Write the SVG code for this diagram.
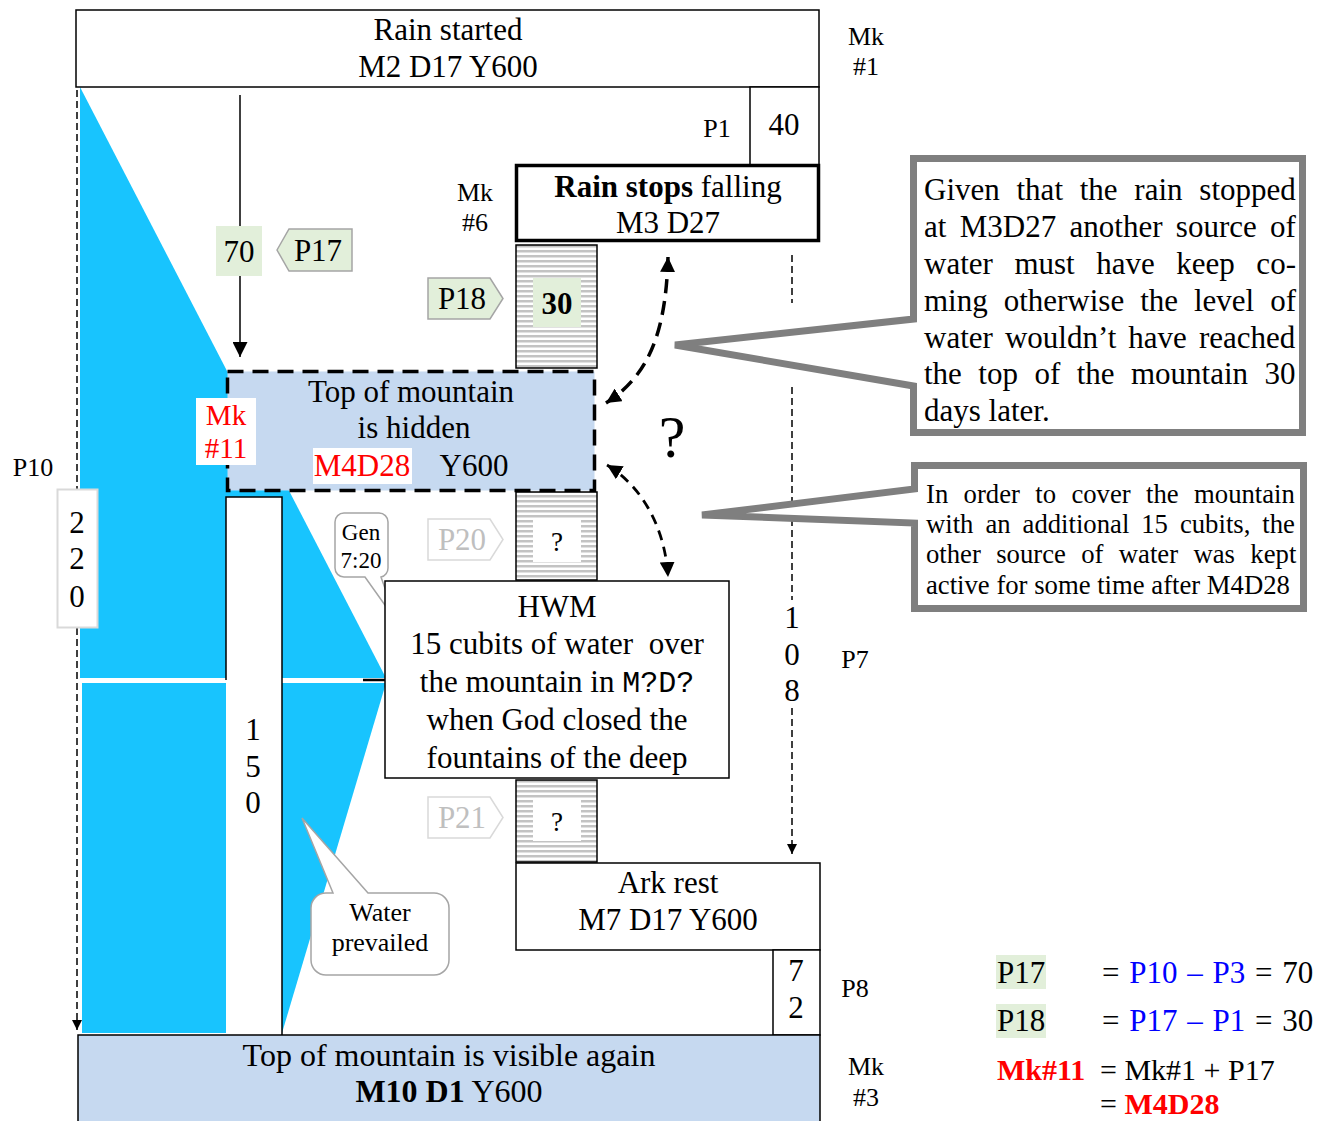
<svg xmlns="http://www.w3.org/2000/svg" width="1321" height="1121" viewBox="0 0 1321 1121">
<style>
text{font-family:"Liberation Serif","Times New Roman",serif}
.t31{font-size:31px}
.t26{font-size:26px}
.c{text-anchor:middle}
.box{fill:#fff;stroke:#000;stroke-width:1.5}
.lb{fill:#c6d9f0}
.hat{fill:url(#hatch);stroke:#000;stroke-width:1.5}
.pg{fill:#e2efda;stroke:#a5a5a5;stroke-width:1.5}
.pf{fill:#fff;stroke:#d9d9d9;stroke-width:1.5}
.faint{fill:#bfbfbf}
.call{fill:#fff;stroke:#7f7f7f;stroke-width:7;stroke-linejoin:miter}
.bub{fill:#fff;stroke:#a5a5a5;stroke-width:1.5}
.red{fill:#ff0000}
.blue{fill:#0000ff}
</style>
<defs>
<pattern id="hatch" width="10" height="5" patternUnits="userSpaceOnUse">
<rect width="10" height="5" fill="#fff"/>
<rect width="10" height="2.5" fill="#c3c3c3"/>
</pattern>
<marker id="ah" viewBox="0 0 10 10" refX="10" refY="5" markerWidth="15" markerHeight="15" orient="auto-start-reverse" markerUnits="userSpaceOnUse">
<path d="M0,0 L10,5 L0,10 z" fill="#000"/>
</marker>
<marker id="ahs" viewBox="0 0 10 10" refX="10" refY="5" markerWidth="10" markerHeight="10" orient="auto" markerUnits="userSpaceOnUse">
<path d="M0,0 L10,5 L0,10 z" fill="#000"/>
</marker>
</defs>
<rect width="1321" height="1121" fill="#fff"/>

<g id="water">
<polygon points="80,87 386,678 80,678" fill="#18c4fe"/>
<polygon points="82,683 386,683 282,1033 82,1033" fill="#18c4fe"/>
</g>

<g id="column150">
<rect x="226" y="497" width="56" height="538" fill="#fff"/>
<path d="M226,680 V497 H282 V1035" fill="none" stroke="#000" stroke-width="1.5"/>
<text class="t31 c" x="253" y="740">1</text>
<text class="t31 c" x="253" y="777">5</text>
<text class="t31 c" x="253" y="813">0</text>
</g>

<g id="connectors" fill="none" stroke="#000">
<line x1="240" y1="95" x2="240" y2="226" stroke-width="1.5"/>
<line x1="240" y1="276" x2="240" y2="357" stroke-width="1.5" marker-end="url(#ah)"/>
<line x1="77" y1="90" x2="77" y2="489" stroke-width="1.5" stroke-dasharray="7 4"/>
<line x1="77" y1="628" x2="77" y2="1030" stroke-width="1.5" stroke-dasharray="7 4" marker-end="url(#ahs)"/>
<line x1="792" y1="255" x2="792" y2="303" stroke-width="1.5" stroke-dasharray="7 4"/>
<line x1="792" y1="387" x2="792" y2="600" stroke-width="1.5" stroke-dasharray="7 4"/>
<line x1="792" y1="708" x2="792" y2="854" stroke-width="1.5" stroke-dasharray="7 4" marker-end="url(#ahs)"/>
<path d="M668,257 C666,330 650,375 606,403" stroke-width="3.5" stroke-dasharray="14 8" marker-start="url(#ah)" marker-end="url(#ah)"/>
<path d="M607,465 C640,485 665,525 668,577" stroke-width="2.8" stroke-dasharray="10 7" marker-start="url(#ah)" marker-end="url(#ah)"/>
<line x1="363" y1="680" x2="386" y2="680" stroke-width="2.5"/>
</g>

<g id="rain-started">
<rect class="box" x="76" y="10" width="743" height="77"/>
<text class="t31 c" x="448" y="40">Rain started</text>
<text class="t31 c" x="448" y="77">M2 D17 Y600</text>
</g>
<text class="t26 c" x="866" y="45">Mk</text>
<text class="t26 c" x="866" y="75">#1</text>

<g id="p1-40">
<rect class="box" x="750" y="87" width="69" height="78"/>
<text class="t31 c" x="784" y="135">40</text>
</g>
<text class="t26 c" x="717" y="137">P1</text>

<g id="rain-stops">
<rect x="516.5" y="165.5" width="302" height="75" fill="#fff" stroke="#000" stroke-width="3.5"/>
<text class="t31 c" x="668" y="197"><tspan font-weight="bold">Rain stops</tspan> falling</text>
<text class="t31 c" x="668" y="233">M3 D27</text>
</g>
<text class="t26 c" x="475" y="201">Mk</text>
<text class="t26 c" x="475" y="231">#6</text>

<g id="label70">
<rect x="216" y="226" width="46" height="50" fill="#e2efda"/>
<text class="t31 c" x="239" y="262">70</text>
</g>
<g id="p17">
<polygon class="pg" points="277,250 289,229 352,229 352,271 289,271"/>
<text class="t31 c" x="318" y="261">P17</text>
</g>
<g id="p18">
<polygon class="pg" points="428,278 490,278 503,298.5 490,319 428,319"/>
<text class="t31 c" x="462" y="309">P18</text>
</g>

<g id="bar30">
<rect class="hat" x="516" y="245" width="81" height="123"/>
<rect x="533" y="278" width="48" height="49" fill="#e2efda"/>
<text class="t31 c" x="557" y="314" font-weight="bold">30</text>
</g>

<g id="hidden">
<rect class="lb" x="227.5" y="371.5" width="367" height="119" stroke="#000" stroke-width="3.5" stroke-dasharray="16 9"/>
<text class="t31 c" x="411" y="402">Top of mountain</text>
<text class="t31 c" x="414" y="438">is hidden</text>
<rect x="313" y="448" width="99" height="36" fill="#fff"/>
<text class="t31 c red" x="362" y="476">M4D28</text>
<text class="t31 c" x="474" y="476">Y600</text>
</g>
<g id="mk11">
<rect x="196" y="398" width="60" height="67" fill="#fff"/>
<text class="c red" x="226" y="425" font-size="29">Mk</text>
<text class="c red" x="226" y="458" font-size="29">#11</text>
</g>

<text x="672" y="457" font-size="60" class="c">?</text>

<text class="t26 c" x="33" y="476">P10</text>
<g id="box220">
<rect x="57.5" y="489.5" width="40" height="138" fill="#fff" stroke="#d9d9d9" stroke-width="2"/>
<text class="t31 c" x="77" y="533">2</text>
<text class="t31 c" x="77" y="569">2</text>
<text class="t31 c" x="77" y="607">0</text>
</g>

<g id="gen720">
<path class="bub" d="M344,513 H379 A9,9 0 0 1 388,522 V568 A9,9 0 0 1 381,577 L397,622 L365,577 H344 A9,9 0 0 1 335,568 V522 A9,9 0 0 1 344,513 Z"/>
<text class="c" x="361" y="540" font-size="23">Gen</text>
<text class="c" x="361" y="568" font-size="23">7:20</text>
</g>

<g id="p20">
<polygon class="pf" points="428,519 490,519 503,539.5 490,560 428,560"/>
<text class="t31 c faint" x="462" y="550">P20</text>
</g>
<g id="bar2">
<rect class="hat" x="516" y="492" width="81" height="88"/>
<rect x="533" y="520" width="48" height="42" fill="#fff"/>
<text class="c" x="557" y="551" font-size="27">?</text>
</g>

<g id="hwm">
<rect class="box" x="385" y="581" width="344" height="197"/>
<text class="t31 c" x="557" y="617">HWM</text>
<text class="t31 c" x="557" y="654" xml:space="preserve">15 cubits of water  over</text>
<text class="t31 c" x="557" y="692">the mountain in <tspan font-family="'Liberation Mono','Courier New',monospace" font-size="30">M?D?</tspan></text>
<text class="t31 c" x="557" y="730">when God closed the</text>
<text class="t31 c" x="557" y="768">fountains of the deep</text>
</g>

<g id="p21">
<polygon class="pf" points="428,797 490,797 503,817.5 490,838 428,838"/>
<text class="t31 c faint" x="462" y="828">P21</text>
</g>
<g id="bar3">
<rect class="hat" x="516" y="780" width="81" height="82"/>
<rect x="533" y="799" width="48" height="42" fill="#fff"/>
<text class="c" x="557" y="831" font-size="27">?</text>
</g>

<g id="water-prevailed">
<path class="bub" d="M333,893 L302,818 L368,893 H434 A15,15 0 0 1 449,908 V960 A15,15 0 0 1 434,975 H326 A15,15 0 0 1 311,960 V908 A15,15 0 0 1 326,893 Z"/>
<text class="t26 c" x="380" y="921">Water</text>
<text class="t26 c" x="380" y="951">prevailed</text>
</g>

<g id="ark-rest">
<rect class="box" x="516" y="863" width="304" height="87"/>
<text class="t31 c" x="668" y="893">Ark rest</text>
<text class="t31 c" x="668" y="930">M7 D17 Y600</text>
</g>
<g id="box72">
<rect class="box" x="773" y="950" width="47" height="85"/>
<text class="t31 c" x="796" y="981">7</text>
<text class="t31 c" x="796" y="1018">2</text>
</g>
<text class="t26 c" x="855" y="997">P8</text>

<g id="label108">
<text class="t31 c" x="792" y="628">1</text>
<text class="t31 c" x="792" y="665">0</text>
<text class="t31 c" x="792" y="701">8</text>
</g>
<text class="t26 c" x="855" y="668">P7</text>

<g id="visible-again">
<rect class="lb" x="78" y="1035" width="742" height="90" stroke="#000" stroke-width="1.5"/>
<text class="c" x="449" y="1066" font-size="32">Top of mountain is visible again</text>
<text class="c" x="449" y="1102" font-size="32"><tspan font-weight="bold">M10 D1</tspan> Y600</text>
</g>
<text class="t26 c" x="866" y="1075">Mk</text>
<text class="t26 c" x="866" y="1106">#3</text>

<g id="callout1">
<path class="call" d="M913.5,158.5 H1302.5 V432.5 H913.5 V386 L675,345 L913.5,319 Z"/>
<g class="t31">
<text x="924" y="200" word-spacing="9">Given that the rain stopped</text>
<text x="924" y="237" word-spacing="5.6">at M3D27 another source of</text>
<text x="924" y="274" word-spacing="13.8">water must have keep co-</text>
<text x="924" y="311" word-spacing="8.2">ming otherwise the level of</text>
<text x="924" y="348" word-spacing="4.3">water wouldn’t have reached</text>
<text x="924" y="384" word-spacing="8.7">the top of the mountain 30</text>
<text x="924" y="421">days later.</text>
</g>
</g>

<g id="callout2">
<path class="call" d="M914.5,465.5 H1303.5 V608.5 H914.5 V523 L702,515 L914.5,489 Z"/>
<g font-size="26.7">
<text x="926" y="503" word-spacing="8.7">In order to cover the mountain</text>
<text x="926" y="533" word-spacing="5.3">with an additional 15 cubits, the</text>
<text x="926" y="563" word-spacing="8.7">other source of water was kept</text>
<text x="926" y="594">active for some time after M4D28</text>
</g>
</g>

<g id="formulas" class="t31">
<rect x="996" y="955" width="50" height="34" fill="#e2efda"/>
<text x="997" y="983">P17</text>
<text x="1102" y="983" word-spacing="2">= <tspan class="blue">P10 – P3</tspan> = 70</text>
<rect x="996" y="1004" width="50" height="34" fill="#e2efda"/>
<text x="997" y="1031">P18</text>
<text x="1102" y="1031" word-spacing="2">= <tspan class="blue">P17 – P1</tspan> = 30</text>
<text x="997" y="1080" font-size="30" font-weight="bold" class="red">Mk#11</text>
<text x="1100" y="1080" font-size="30">= Mk#1 + P17</text>
<text x="1100" y="1114" font-size="30">= <tspan font-weight="bold" class="red">M4D28</tspan></text>
</g>
</svg>
